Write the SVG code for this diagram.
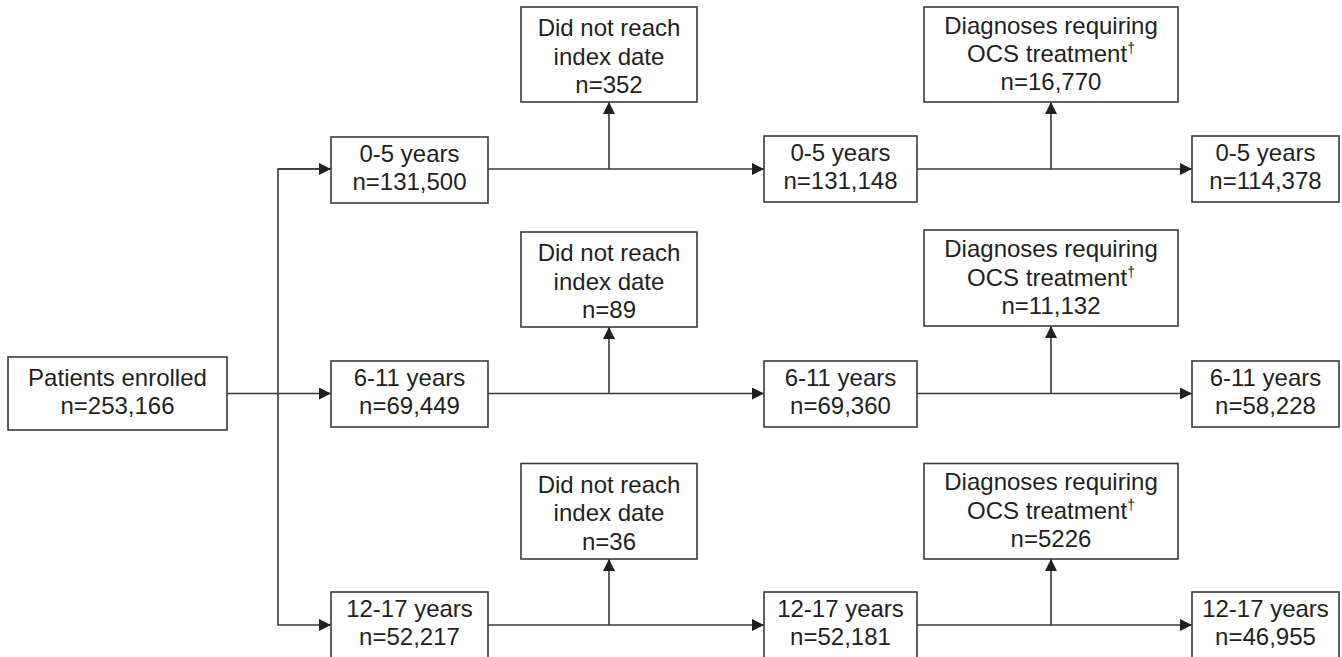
<svg xmlns="http://www.w3.org/2000/svg" width="1342" height="657" viewBox="0 0 1342 657">
<defs>
<style>
.box{fill:#fff;stroke:#3a3a3a;stroke-width:1.6}
.t{font-family:"Liberation Sans",Arial,sans-serif;font-size:24px;fill:#231f20;text-anchor:middle}
.sup{font-size:14px}
.ln{fill:none;stroke:#3a3a3a;stroke-width:1.6}
</style>
<marker id="ah" markerWidth="12" markerHeight="12" refX="12" refY="6" orient="auto" markerUnits="userSpaceOnUse">
<path d="M0,0 L12,6 L0,12 Z" fill="#231f20"/>
</marker>
</defs>
<rect width="1342" height="657" fill="#fff"/>

<g id="connectors">
<path class="ln" d="M227,393.5 H331" marker-end="url(#ah)"/>
<path class="ln" d="M331,169 H278 V625 H331" marker-end="url(#ah)"/>
<path class="ln" d="M278,169 H331" marker-end="url(#ah)"/>
<path class="ln" d="M488,169 H764" marker-end="url(#ah)"/>
<path class="ln" d="M609,169 V102" marker-end="url(#ah)"/>
<path class="ln" d="M917,169 H1192" marker-end="url(#ah)"/>
<path class="ln" d="M1051,169 V102" marker-end="url(#ah)"/>
<path class="ln" d="M488,393.5 H764" marker-end="url(#ah)"/>
<path class="ln" d="M609,393.5 V327" marker-end="url(#ah)"/>
<path class="ln" d="M917,393.5 H1192" marker-end="url(#ah)"/>
<path class="ln" d="M1051,393.5 V326" marker-end="url(#ah)"/>
<path class="ln" d="M488,625 H764" marker-end="url(#ah)"/>
<path class="ln" d="M609,625 V559" marker-end="url(#ah)"/>
<path class="ln" d="M917,625 H1192" marker-end="url(#ah)"/>
<path class="ln" d="M1051,625 V559" marker-end="url(#ah)"/>
</g>

<g id="enrolled">
<rect class="box" x="8" y="357" width="219" height="73"/>
<text class="t" x="117.5" y="386">Patients enrolled</text>
<text class="t" x="117.5" y="414">n=253,166</text>
</g>

<g id="a1">
<rect class="box" x="331" y="137" width="157" height="66"/>
<text class="t" x="409.5" y="162">0-5 years</text>
<text class="t" x="409.5" y="190">n=131,500</text>
</g>
<g id="a2">
<rect class="box" x="331" y="361" width="157" height="66"/>
<text class="t" x="409.5" y="386">6-11 years</text>
<text class="t" x="409.5" y="414">n=69,449</text>
</g>
<g id="a3">
<rect class="box" x="331" y="592" width="157" height="66"/>
<text class="t" x="409.5" y="617">12-17 years</text>
<text class="t" x="409.5" y="645">n=52,217</text>
</g>

<g id="x1">
<rect class="box" x="521" y="7" width="176" height="95"/>
<text class="t" x="609" y="36">Did not reach</text>
<text class="t" x="609" y="64.5">index date</text>
<text class="t" x="609" y="93">n=352</text>
</g>
<g id="x2">
<rect class="box" x="521" y="232" width="176" height="95"/>
<text class="t" x="609" y="261">Did not reach</text>
<text class="t" x="609" y="289.5">index date</text>
<text class="t" x="609" y="318">n=89</text>
</g>
<g id="x3">
<rect class="box" x="521" y="463.5" width="176" height="95.5"/>
<text class="t" x="609" y="492.5">Did not reach</text>
<text class="t" x="609" y="521">index date</text>
<text class="t" x="609" y="549.5">n=36</text>
</g>

<g id="b1">
<rect class="box" x="764" y="136" width="153" height="66"/>
<text class="t" x="840.5" y="161">0-5 years</text>
<text class="t" x="840.5" y="189">n=131,148</text>
</g>
<g id="b2">
<rect class="box" x="764" y="361" width="153" height="66"/>
<text class="t" x="840.5" y="386">6-11 years</text>
<text class="t" x="840.5" y="414">n=69,360</text>
</g>
<g id="b3">
<rect class="box" x="764" y="592" width="153" height="66"/>
<text class="t" x="840.5" y="617">12-17 years</text>
<text class="t" x="840.5" y="645">n=52,181</text>
</g>

<g id="d1">
<rect class="box" x="924" y="7" width="254" height="95"/>
<text class="t" x="1051" y="33.5">Diagnoses requiring</text>
<text class="t" x="1051" y="62">OCS treatment<tspan class="sup" dy="-9">†</tspan></text>
<text class="t" x="1051" y="90">n=16,770</text>
</g>
<g id="d2">
<rect class="box" x="924" y="230" width="254" height="96"/>
<text class="t" x="1051" y="257">Diagnoses requiring</text>
<text class="t" x="1051" y="285.5">OCS treatment<tspan class="sup" dy="-9">†</tspan></text>
<text class="t" x="1051" y="313.5">n=11,132</text>
</g>
<g id="d3">
<rect class="box" x="924" y="463.5" width="254" height="95.5"/>
<text class="t" x="1051" y="490">Diagnoses requiring</text>
<text class="t" x="1051" y="518.5">OCS treatment<tspan class="sup" dy="-9">†</tspan></text>
<text class="t" x="1051" y="546.5">n=5226</text>
</g>

<g id="c1">
<rect class="box" x="1192" y="136" width="147" height="66"/>
<text class="t" x="1265.5" y="161">0-5 years</text>
<text class="t" x="1265.5" y="189">n=114,378</text>
</g>
<g id="c2">
<rect class="box" x="1192" y="361" width="147" height="66"/>
<text class="t" x="1265.5" y="386">6-11 years</text>
<text class="t" x="1265.5" y="414">n=58,228</text>
</g>
<g id="c3">
<rect class="box" x="1192" y="592" width="147" height="66"/>
<text class="t" x="1265.5" y="617">12-17 years</text>
<text class="t" x="1265.5" y="645">n=46,955</text>
</g>
</svg>
